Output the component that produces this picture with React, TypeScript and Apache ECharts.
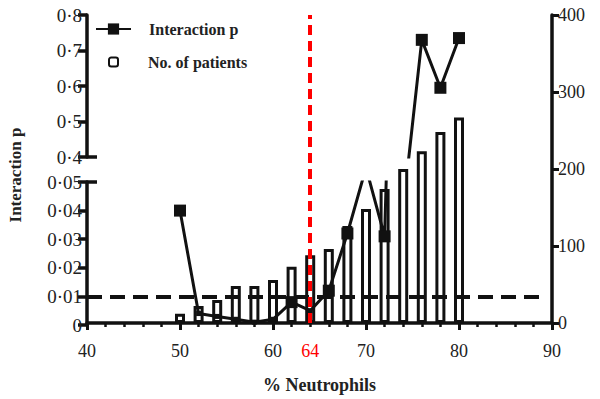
import React, { useEffect, useRef } from "react";
import * as echarts from "echarts";

const neutrophils = [50, 52, 54, 56, 58, 60, 62, 64, 66, 68, 70, 72, 74, 76, 78, 80];
const patients = [12, 22, 30, 48, 48, 56, 73, 88, 96, 126, 148, 174, 200, 223, 248, 267];
const interactionP = [0.04, 0.004, 0.003, 0.002, 0.001, 0.002, 0.008, 0.005, 0.012, 0.032, 0.055, 0.031, 0.256, 0.73, 0.595, 0.735];
const cutoff = 64;
const pThreshold = 0.01;
const xTicks = { min: 40, max: 90, interval: 10 };
const lowerP = { min: 0, max: 0.05, interval: 0.01 };
const upperP = { min: 0.4, max: 0.8, interval: 0.1 };
const rightAxis = { min: 0, max: 400, interval: 100 };

const FONT = "'Liberation Serif', 'Times New Roman', serif";
const INK = "#111";

const dot = (v: number, d: number) => (v === 0 ? "0" : v.toFixed(d).replace(".", "·"));

export default function App() {
  const ref = useRef<HTMLDivElement>(null);
  useEffect(() => {
    if (!ref.current) return;
    document.body.style.margin = "0";
    const chart = echarts.init(ref.current, undefined, { renderer: "svg" });
    const linePairs = neutrophils.map((x, i) => [x, interactionP[i]]);
    const barPairs = neutrophils.map((x, i) => [x, patients[i]]);

    const hiddenX = (gridIndex: number) => ({
      type: "value",
      gridIndex,
      min: xTicks.min,
      max: xTicks.max,
      interval: xTicks.interval,
      show: false,
    });

    const leftY = (gridIndex: number, r: any, d: number) => ({
      type: "value",
      gridIndex,
      position: "left",
      min: r.min,
      max: r.max,
      interval: r.interval,
      axisLine: { show: true, lineStyle: { color: INK, width: 3.5 } },
      axisTick: { show: true, length: 9, lineStyle: { color: INK, width: 3.5 } },
      splitLine: { show: false },
      axisLabel: {
        color: "#222",
        fontFamily: FONT,
        fontSize: 19,
        margin: 5,
        formatter: (v: number) => dot(v, d),
      },
    });

    const lineSeries = (idx: number, extra: any = {}) => ({
      type: "line",
      name: "Interaction p",
      xAxisIndex: idx,
      yAxisIndex: idx,
      data: linePairs,
      clip: true,
      symbol: "rect",
      symbolSize: (v: number[]) => (v[1] < 0.007 ? 5 : 12),
      showSymbol: true,
      color: INK,
      itemStyle: { color: INK },
      lineStyle: { color: INK, width: 3 },
      z: 3,
      ...extra,
    });

    chart.setOption({
      animation: false,
      backgroundColor: "#fff",
      textStyle: { fontFamily: FONT },
      legend: [
        {
          data: ["Interaction p"],
          left: 95,
          top: 21,
          padding: 0,
          itemWidth: 35,
          itemHeight: 14,
          textStyle: { fontFamily: FONT, fontSize: 16, fontWeight: "bold", color: "#222", padding: [0, 0, 0, 13] },
        },
        {
          data: ["No. of patients"],
          left: 108,
          top: 54,
          padding: 0,
          itemWidth: 9,
          itemHeight: 9,
          textStyle: { fontFamily: FONT, fontSize: 16, fontWeight: "bold", color: "#222", padding: [0, 0, 0, 25] },
        },
      ],
      grid: [
        { left: 87, right: 48, top: 15, bottom: 75 },
        { left: 87, right: 48, top: 182, bottom: 74 },
        { left: 87, right: 48, top: 15, bottom: 242 },
      ],
      xAxis: [
        {
          type: "value",
          gridIndex: 0,
          min: xTicks.min,
          max: xTicks.max,
          interval: xTicks.interval,
          name: "% Neutrophils",
          nameLocation: "middle",
          nameGap: 53,
          nameTextStyle: { fontFamily: FONT, fontSize: 18, fontWeight: "bold", color: "#222" },
          axisLine: { show: true, onZero: false, lineStyle: { color: INK, width: 3.5 } },
          axisTick: { show: true, length: 7, lineStyle: { color: INK, width: 3 } },
          minorTick: { show: true, splitNumber: 5, length: 4, lineStyle: { color: INK, width: 2.5 } },
          splitLine: { show: false },
          axisLabel: { color: "#222", fontFamily: FONT, fontSize: 18, margin: 19 },
        },
        hiddenX(1),
        hiddenX(2),
      ],
      yAxis: [
        {
          type: "value",
          gridIndex: 0,
          position: "right",
          min: rightAxis.min,
          max: rightAxis.max,
          interval: rightAxis.interval,
          axisLine: { show: true, lineStyle: { color: INK, width: 3.5 } },
          axisTick: { show: true, length: 7, lineStyle: { color: INK, width: 3 } },
          splitLine: { show: false },
          axisLabel: { color: "#222", fontFamily: FONT, fontSize: 18, margin: 6 },
        },
        leftY(1, lowerP, 2),
        leftY(2, upperP, 1),
      ],
      series: [
        {
          type: "bar",
          name: "No. of patients",
          xAxisIndex: 0,
          yAxisIndex: 0,
          data: barPairs,
          barWidth: 10,
          itemStyle: { color: "#fff", borderColor: INK, borderWidth: 3 },
          z: 2,
          markLine: {
            silent: true,
            symbol: "none",
            z: 6,
            lineStyle: { color: "#f00", width: 4, type: [10, 6] },
            label: {
              show: true,
              position: "start",
              formatter: String(cutoff),
              color: "#f00",
              fontFamily: FONT,
              fontSize: 18,
              distance: 19,
            },
            data: [{ xAxis: cutoff }],
          },
        },
        lineSeries(1, {
          markLine: {
            silent: true,
            symbol: "none",
            z: 5,
            lineStyle: { color: INK, width: 4, type: [15, 8] },
            label: { show: false },
            data: [[{ coord: [xTicks.min, pThreshold] }, { coord: [88.7, pThreshold] }]],
          },
        }),
        lineSeries(2),
      ],
      graphic: [
        {
          type: "text",
          x: 15,
          y: 175,
          rotation: Math.PI / 2,
          style: {
            text: "Interaction p",
            font: `bold 17px ${FONT}`,
            fill: "#222",
            textAlign: "center",
            textVerticalAlign: "middle",
          },
        },
        { type: "line", shape: { x1: 87, y1: 157, x2: 97, y2: 157 }, style: { stroke: INK, lineWidth: 3.5 } },
        { type: "line", shape: { x1: 87, y1: 182, x2: 97, y2: 182 }, style: { stroke: INK, lineWidth: 3.5 } },
      ],
    });
    return () => chart.dispose();
  }, []);
  return <div ref={ref} style={{ width: 600, height: 399 }} />;
}
